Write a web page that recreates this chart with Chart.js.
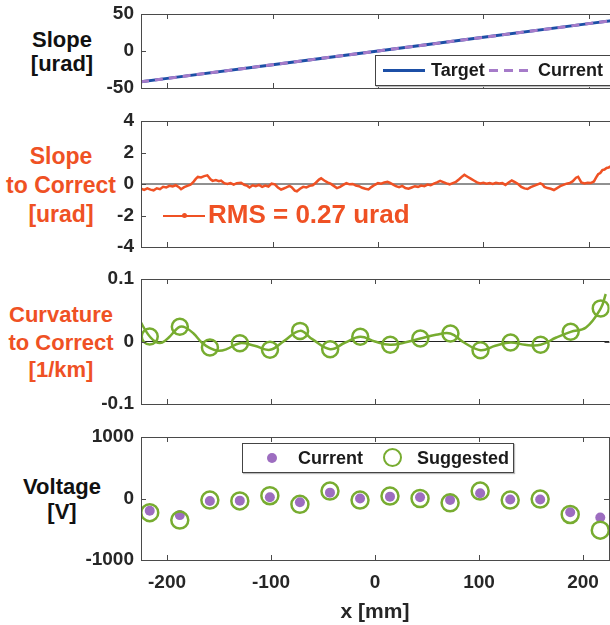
<!DOCTYPE html>
<html>
<head>
<meta charset="utf-8">
<script src="https://cdn.jsdelivr.net/npm/chart.js@4"></script>
<style>
body{margin:0;width:610px;height:625px;overflow:hidden;background:#fff;position:relative;font-family:"Liberation Sans",Arial,sans-serif}
canvas{position:absolute;left:0}
.lab{position:absolute;font-weight:bold;font-size:22px;text-align:center;white-space:nowrap}
.red{color:#ef5124}
.leg{position:absolute;background:#fff;border:1px solid #444;box-shadow:1px 1px 1px #bbb}
.leg span{position:absolute;font-weight:bold;font-size:18px;color:#1a1a1a;white-space:nowrap}
.mk{position:absolute}
</style>
</head>
<body>
<div class="lab" style="left:12px;top:28px;width:100px;line-height:24px;color:#111">Slope<br>[urad]</div>
<div class="lab red" style="left:0;top:142px;width:122px;line-height:29px;font-size:23px">Slope<br>to Correct<br>[urad]</div>
<div class="lab red" style="left:0;top:301px;width:122px;line-height:27.5px">Curvature<br>to Correct<br>[1/km]</div>
<div class="lab" style="left:12px;top:474px;width:100px;line-height:25px;color:#111">Voltage<br>[V]</div>

<script>
// shared x axis
const xTicks = [-200, -100, 0, 100, 200];
const xMin = -225, xMax = 225;

// panel 1: slope [urad]
const slopeX = [-225, -200, -100, 0, 100, 200, 225];
const slopeTarget = [-41.5, -37, -18.5, 0, 18.5, 37, 41.5];
const slopeCurrent = [-41.5, -37, -18.5, 0, 18.5, 37, 41.5];
const slopeTicks = [-50, 0, 50];

// panel 2: slope to correct [urad]
const corrX = [-225,-222,-219,-216,-213,-210,-207,-204,-201,-198,-195,-192,-189,-187,-184,-181,-178,-175,-173,-171,
  -168,-165,-162,-159,-157,-154,-151,-149,-146,-143,-140,-137,-134,-130,-127,-124,-122,-119,-116,-113,
  -110,-107,-104,-101,-98,-95,-92,-90,-87,-84,-82,-79,-77,-74,-71,-68,-65,-62,-59,-56,
  -54,-51,-48,-45,-42,-39,-36,-33,-30,-27,-24,-21,-18,-15,-12,-9,-6,-3,0,3,
  6,9,11,14,17,20,23,26,29,32,35,38,41,44,47,50,53,56,59,62,
  65,68,71,74,77,80,82,85,88,91,94,97,100,103,106,109,112,115,118,121,
  124,127,130,133,136,139,142,145,148,151,154,156,158,161,164,167,170,173,176,179,
  182,185,188,190,193,196,199,202,205,207,209,211,213,215,217,219,221,223,225];
const corrY = [-0.30,-0.38,-0.28,-0.36,-0.40,-0.27,-0.33,-0.18,-0.22,-0.12,-0.16,-0.08,-0.20,-0.33,-0.20,-0.12,-0.05,0.15,0.32,0.45,
  0.42,0.50,0.55,0.30,0.20,0.25,0.18,0.22,0.05,0.00,0.06,-0.04,0.05,0.08,-0.05,-0.12,-0.22,-0.08,-0.14,-0.06,
  -0.18,-0.10,-0.16,0.02,-0.02,-0.22,-0.35,-0.30,-0.22,-0.12,-0.20,-0.42,-0.46,-0.30,-0.18,-0.22,-0.12,-0.08,0.08,0.28,
  0.36,0.22,0.10,0.02,-0.12,-0.26,-0.18,-0.06,0.05,-0.02,0.00,-0.10,-0.14,-0.24,-0.30,-0.34,-0.18,-0.05,0.06,0.02,
  0.10,0.14,0.08,-0.02,-0.14,-0.20,-0.12,-0.26,-0.30,-0.22,-0.14,-0.18,-0.10,-0.14,-0.04,-0.08,0.02,0.10,0.20,0.12,
  0.04,-0.02,0.06,0.14,0.30,0.48,0.58,0.46,0.34,0.22,0.10,0.04,0.08,0.02,0.06,0.00,0.08,0.04,0.06,-0.06,
  0.10,0.22,0.12,0.00,-0.18,-0.28,-0.32,-0.20,-0.12,-0.04,0.04,-0.02,-0.18,-0.26,-0.30,-0.38,-0.26,-0.14,-0.06,0.02,
  0.06,0.18,0.40,0.46,0.10,0.04,0.08,0.06,0.16,0.40,0.62,0.70,0.88,0.92,1.02,1.05,1.12,1.10,1.15];
const corrTicks = [-4, -2, 0, 2, 4];

// panel 3: curvature to correct [1/km]
const nodeX = [-216.6,-187.7,-158.8,-130,-101.1,-72.2,-43.3,-14.4,14.4,43.3,72.2,101.1,130,158.8,187.7,216.6];
const curvNodes = [0.008,0.0235,-0.0096,-0.0027,-0.0133,0.017,-0.0123,0.0075,-0.0053,0.0048,0.0128,-0.0139,-0.0016,-0.0053,0.0155,0.053];
const curvX = [-225,-220.4,-216.6,-210.9,-204.6,-198.3,-191.9,-187.7,-182.4,-174.5,-166.6,-158.7,-150.7,-142.8,-130,-115.9,
  -101.1,-87.4,-72.2,-60.5,-43.3,-28.8,-14.4,-0.3,14.4,28.2,43.3,58.3,72.2,85.2,101.1,115.3,130,143.8,158.8,173.9,187.7,202.4,216.6,221.4];
const curvY = [0.030,0.017,0.008,-0.0005,-0.0016,0.0064,0.018,0.0235,0.0224,0.0128,-0.0016,-0.0107,-0.0149,-0.0123,-0.0027,-0.0069,
  -0.0133,0.001,0.017,0.0037,-0.0123,-0.0016,0.0075,0,-0.0053,-0.0016,0.0048,0.0107,0.0128,-0.0016,-0.0139,-0.0069,-0.0016,-0.0053,-0.0053,0.0064,0.0155,0.0224,0.053,0.076];
const curvTicks = [-0.1, 0, 0.1];

// panel 4: voltage [V]
const voltCurrent = [-200,-270,-40,-35,20,-60,95,0,30,20,-25,85,-15,-15,-225,-310];
const voltSuggested = [-230,-350,-25,-40,45,-95,120,-25,40,0,-70,120,-25,-10,-260,-515];
const voltTicks = [-1000, 0, 1000];

const RED = '#ef5124', GREEN = '#77ac30', BLUE = '#1c4fa6', PURPLE = '#a67bc9';
const tickFont = { family: '"Liberation Sans", Arial, sans-serif', size: 19, weight: 'bold' };

const pts = (xs, ys) => xs.map((x, i) => ({ x: x, y: ys[i] }));

const boxTicks = {
  id: 'boxTicks',
  afterDatasetsDraw(chart) {
    const { ctx, chartArea: a, scales } = chart;
    ctx.save();
    ctx.strokeStyle = '#4a4a4a';
    ctx.lineWidth = 1;
    ctx.beginPath();
    xTicks.forEach(v => {
      const px = Math.round(scales.x.getPixelForValue(v)) + 0.5;
      ctx.moveTo(px, a.top); ctx.lineTo(px, a.top + 5);
      ctx.moveTo(px, a.bottom); ctx.lineTo(px, a.bottom - 5);
    });
    scales.y.ticks.forEach(t => {
      const py = Math.round(scales.y.getPixelForValue(t.value)) + 0.5;
      ctx.moveTo(a.left, py); ctx.lineTo(a.left + 5, py);
      ctx.moveTo(a.right, py); ctx.lineTo(a.right - 5, py);
    });
    ctx.stroke();
    ctx.strokeRect(Math.round(a.left) + 0.5, Math.round(a.top) + 0.5, Math.round(a.right - a.left), Math.round(a.bottom - a.top));
    ctx.restore();
  }
};

function panel(top, plotH, datasets, yTicks, withX) {
  const cv = document.createElement('canvas');
  const h = 14 + plotH + (withX ? 65 : 14);
  cv.width = 620; cv.height = h;
  cv.style.top = (top - 14) + 'px';
  document.body.appendChild(cv);
  new Chart(cv, {
    type: 'line',
    data: { datasets: datasets },
    options: {
      responsive: false, animation: false, devicePixelRatio: 1,
      layout: { padding: { top: 14, bottom: withX ? 0 : 14, left: 0, right: 5 } },
      plugins: { legend: { display: false }, tooltip: { enabled: false } },
      scales: {
        x: {
          type: 'linear', min: xMin, max: xMax, display: withX,
          grid: { display: false, drawTicks: false }, border: { display: false },
          afterBuildTicks: s => { s.ticks = xTicks.map(v => ({ value: v })); },
          afterFit: s => { if (withX) { s.height = 65; s.paddingLeft = 0; s.paddingRight = 0; } },
          ticks: { font: tickFont, color: '#262626', padding: 11, maxRotation: 0, callback: v => String(v) },
          title: { display: true, text: 'x [mm]', color: '#262626', padding: { top: 0, bottom: 0 },
                   font: { family: '"Liberation Sans", Arial, sans-serif', size: 21, weight: 'bold' } }
        },
        y: {
          min: yTicks[0], max: yTicks[yTicks.length - 1],
          grid: { display: false, drawTicks: false }, border: { display: false },
          afterBuildTicks: s => { s.ticks = yTicks.map(v => ({ value: v })); },
          afterFit: s => { s.width = 141; s.paddingTop = 0; s.paddingBottom = 0; },
          ticks: { font: tickFont, color: '#262626', padding: 7, callback: v => String(v) }
        }
      }
    },
    plugins: [boxTicks]
  });
}

const zeroLine = { data: pts([xMin, xMax], [0, 0]), borderColor: '#222', borderWidth: 1, pointRadius: 0, order: 5 };

panel(14, 74, [
  { data: pts(slopeX, slopeTarget), borderColor: BLUE, borderWidth: 3, pointRadius: 0, order: 2 },
  { data: pts(slopeX, slopeCurrent), borderColor: PURPLE, borderWidth: 3, borderDash: [8, 6], pointRadius: 0, order: 1 }
], slopeTicks, false);

panel(121, 126, [
  zeroLine,
  { data: pts(corrX, corrY), borderColor: RED, borderWidth: 2.5, pointRadius: 0, order: 1 }
], corrTicks, false);

panel(279, 125, [
  Object.assign({}, zeroLine),
  { data: pts(curvX, curvY), borderColor: GREEN, borderWidth: 2.5, pointRadius: 0, tension: 0.4, order: 2 },
  { data: pts(nodeX, curvNodes), showLine: false, pointRadius: 8, pointBorderWidth: 2.5, pointBorderColor: GREEN, pointBackgroundColor: 'rgba(0,0,0,0)', order: 1 }
], curvTicks, false);

panel(437, 123, [
  { data: pts(nodeX, voltCurrent), showLine: false, pointRadius: 5, pointBorderWidth: 0, pointBackgroundColor: '#9d6dc0', pointBorderColor: '#9d6dc0', order: 2 },
  { data: pts(nodeX, voltSuggested), showLine: false, pointRadius: 8.5, pointBorderWidth: 2.5, pointBorderColor: GREEN, pointBackgroundColor: 'rgba(0,0,0,0)', order: 1 }
], voltTicks, true);
</script>

<!-- legends and annotation -->
<div class="leg" style="left:375px;top:55px;width:234px;height:29px">
  <div class="mk" style="left:7px;top:13px;width:42px;height:3px;background:#1c4fa6"></div>
  <span style="left:55px;top:4px">Target</span>
  <div class="mk" style="left:113px;top:13px;width:44px;height:3px;background:repeating-linear-gradient(90deg,#a67bc9 0 9px,transparent 9px 15px)"></div>
  <span style="left:162px;top:4px">Current</span>
</div>

<div class="mk" style="left:163px;top:215px;width:42px;height:1.5px;background:#ef5124"></div>
<div class="mk" style="left:182px;top:213px;width:5px;height:5px;border-radius:50%;background:#ef5124"></div>
<div class="mk" style="left:208px;top:199px;font-weight:bold;font-size:26px;color:#ef5124;white-space:nowrap">RMS = 0.27 urad</div>

<div class="leg" style="left:242px;top:443px;width:270px;height:28px">
  <div class="mk" style="left:24px;top:9px;width:10px;height:10px;border-radius:50%;background:#9d6dc0"></div>
  <span style="left:55px;top:4px">Current</span>
  <div class="mk" style="left:140px;top:4px;width:15px;height:15px;border-radius:50%;border:2.5px solid #77ac30"></div>
  <span style="left:174px;top:4px">Suggested</span>
</div>
</body>
</html>
